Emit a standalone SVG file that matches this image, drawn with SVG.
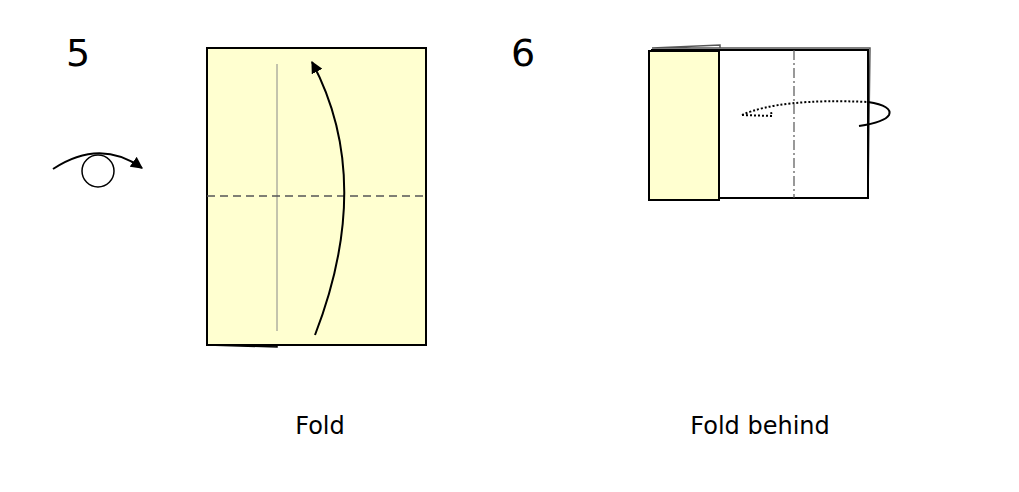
<svg xmlns="http://www.w3.org/2000/svg" width="1019" height="492" viewBox="0 0 1019 492">
<style>
.t{font-family:"DejaVu Sans",sans-serif;fill:#000}
.big{font-size:38px}
.lab{font-size:24px}
.paper{fill:#ffffd0;stroke:#000;stroke-width:2}
.ln{fill:none;stroke:#000;stroke-width:2}
</style>
<defs>
<marker id="ah" viewBox="0 0 10 10" refX="9" refY="5" markerWidth="6" markerHeight="6" orient="auto" markerUnits="strokeWidth"><path d="M0,0L10,5L0,10z" fill="#000"/></marker>
</defs>
<rect width="1019" height="492" fill="#fff"/>
<text class="t big" x="66" y="66">5</text>
<text class="t big" x="511" y="66">6</text>
<text class="t lab" x="320" y="434" text-anchor="middle">Fold</text>
<text class="t lab" x="760" y="434" text-anchor="middle">Fold behind</text>
<g id="step5">
<path d="M207,345 L277,347 L277,345" fill="#555" stroke="#000" stroke-width="1.5"/>
<rect class="paper" x="207" y="48" width="219" height="297"/>
<line x1="277" y1="64" x2="277" y2="331" stroke="#888" stroke-width="1"/>
<line x1="207" y1="196" x2="426" y2="196" stroke="#555" stroke-width="1.5" stroke-dasharray="8,5"/>
</g>
<g id="eye">
<circle cx="98" cy="171" r="16" fill="#fff" stroke="#000" stroke-width="1.5"/>
</g>
<g id="step6">
<path d="M652,48 L720,45 L720,48 M652,48 L870,48 L868,198" fill="none" stroke="#555" stroke-width="1.5"/>
<rect x="652" y="50" width="216" height="148" fill="#fff" stroke="#000" stroke-width="2"/>
<line x1="794" y1="50" x2="794" y2="198" stroke="#555" stroke-width="1.2" stroke-dasharray="10,3,2,3"/>
<rect class="paper" x="649" y="51" width="70" height="149"/>
</g>
<g id="connectors">
<path class="ln" d="M315,335 Q375,180 312,62" marker-end="url(#ah)"/>
<path class="ln" d="M53,169 Q100,138 142,168" marker-end="url(#ah)"/>
<path d="M742,115 Q780,98 868,102 M742,115 L772,116 L771,112" fill="none" stroke="#000" stroke-width="2" stroke-dasharray="2,2"/>
<path d="M868,102 Q893,106 889,115 Q885,122 859,126" fill="none" stroke="#000" stroke-width="2"/>
</g>
</svg>
